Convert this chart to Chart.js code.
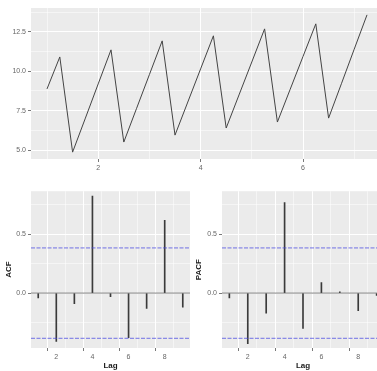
<!DOCTYPE html>
<html>
<head>
<meta charset="utf-8">
<script src="https://cdn.jsdelivr.net/npm/chart.js@4.4.1/dist/chart.umd.min.js"></script>
<style>
  html, body { margin: 0; padding: 0; background: #ffffff; }
  body { width: 377px; height: 371px; overflow: hidden; position: relative; }
  canvas { position: absolute; }
</style>
</head>
<body>
<canvas id="ts" width="390" height="185" style="left:0;top:0"></canvas>
<canvas id="acf" width="200" height="186" style="left:0;top:185px"></canvas>
<canvas id="pacf" width="200" height="186" style="left:190px;top:185px"></canvas>
<script>
// ---- data ----
const seriesValues = [8.88, 10.91, 4.87, 7.03, 9.20, 11.36, 5.51, 7.65, 9.79, 11.93,
                      5.95, 8.05, 10.15, 12.25, 6.40, 8.50, 10.59, 12.69, 6.78, 8.86,
                      10.94, 13.01, 7.03, 9.21, 11.40, 13.58];
const seriesStart = 1;
const seriesFrequency = 4;
const timeTickLabels = ['2', '4', '6'];
const valueTickLabels = ['5.0', '7.5', '10.0', '12.5'];

const lags = [1, 2, 3, 4, 5, 6, 7, 8, 9];
const acfValues = [-0.04, -0.41, -0.09, 0.825, -0.03, -0.38, -0.13, 0.62, -0.12];
const pacfValues = [-0.04, -0.43, -0.17, 0.77, -0.30, 0.09, 0.01, -0.15, -0.02];
const lagTickLabels = ['2', '4', '6', '8'];
const corrTickLabels = ['0.0', '0.5'];

// ---- styling ----
const FONT = "'Liberation Sans', Arial, sans-serif";
const PANEL = '#EBEBEB';
const TEXT = '#666666';
const TICKC = '#555555';

const panelBg = {
  id: 'panelBg',
  beforeDraw(chart) {
    const a = chart.chartArea, c = chart.ctx;
    c.save(); c.fillStyle = PANEL;
    c.fillRect(a.left, a.top, a.right - a.left, a.bottom - a.top);
    c.restore();
  }
};

function makeScale(cfg) {
  const isMajor = v => Object.prototype.hasOwnProperty.call(cfg.labels, String(+v.toFixed(4)));
  return {
    type: 'linear',
    position: cfg.pos,
    min: cfg.min, max: cfg.max,
    offset: false,
    border: { display: false },
    grid: {
      color: '#ffffff',
      lineWidth: ctx => (ctx.tick && isMajor(ctx.tick.value)) ? 1 : 0.5,
      drawTicks: true,
      tickLength: 3,
      tickColor: ctx => (ctx.tick && isMajor(ctx.tick.value)) ? TICKC : 'rgba(0,0,0,0)',
      tickWidth: 0.8
    },
    ticks: {
      color: TEXT,
      font: { family: FONT, size: 7 },
      padding: 2,
      maxRotation: 0,
      autoSkip: false,
      callback: v => { const k = String(+(+v).toFixed(4)); return cfg.labels[k] !== undefined ? cfg.labels[k] : ''; }
    },
    afterBuildTicks: s => { s.ticks = cfg.ticks.map(v => ({ value: v })); },
    afterFit: s => { if (cfg.pos === 'left') s.width = cfg.size; else s.height = cfg.size; },
    title: cfg.title ? {
      display: true, text: cfg.title, color: '#1a1a1a',
      font: { family: FONT, size: 8, weight: 'bold' }, padding: cfg.titlePad || { top: 1, bottom: 0 }
    } : { display: false }
  };
}

// ---- time series panel ----
const tsPoints = seriesValues.map((v, i) => ({ x: seriesStart + i / seriesFrequency, y: v }));
const tsLabelMap = {}; ['2', '4', '6'].forEach((k, i) => tsLabelMap[k] = timeTickLabels[i]);
const valLabelMap = {}; ['5', '7.5', '10', '12.5'].forEach((k, i) => valLabelMap[k] = valueTickLabels[i]);
const tMin = seriesStart, tMax = seriesStart + (seriesValues.length - 1) / seriesFrequency;
const vMin = Math.min(...seriesValues), vMax = Math.max(...seriesValues);
const tPad = (tMax - tMin) * 0.05, vPad = (vMax - vMin) * 0.05;

new Chart(document.getElementById('ts'), {
  type: 'line',
  data: { datasets: [{ data: tsPoints, borderColor: '#444444', borderWidth: 1, pointRadius: 0, tension: 0 }] },
  options: {
    responsive: false, animation: false, devicePixelRatio: 1,
    layout: { padding: { top: 8, right: 7, left: 0, bottom: 0 } },
    plugins: { legend: { display: false }, tooltip: { enabled: false } },
    scales: {
      x: makeScale({ pos: 'bottom', min: tMin - tPad, max: tMax + tPad, ticks: [1, 2, 3, 4, 5, 6, 7], labels: tsLabelMap, size: 26 }),
      y: makeScale({ pos: 'left', min: vMin - vPad, max: vMax + vPad, ticks: [5, 6.25, 7.5, 8.75, 10, 11.25, 12.5, 13.75], labels: valLabelMap, size: 31 })
    }
  },
  plugins: [panelBg]
});

// ---- correlogram panels ----
const ci = 1.96 / Math.sqrt(seriesValues.length);
const lagMin = lags[0], lagMax = lags[lags.length - 1];
const lagPad = (lagMax - lagMin) * 0.05;
const lagLabelMap = {}; ['2', '4', '6', '8'].forEach((k, i) => lagLabelMap[k] = lagTickLabels[i]);
const corrLabelMap = { '0': corrTickLabels[0], '0.5': corrTickLabels[1] };

function corrChart(id, values, title, yWidth, rightPad) {
  const x0 = lagMin - lagPad, x1 = lagMax + lagPad;
  const ciColor = 'rgba(70,70,225,0.75)';
  new Chart(document.getElementById(id), {
    type: 'bar',
    data: {
      datasets: [
        { type: 'line', data: [{ x: x0, y: ci }, { x: x1, y: ci }], borderColor: ciColor, borderWidth: 1, borderDash: [4, 1.5], pointRadius: 0 },
        { type: 'line', data: [{ x: x0, y: -ci }, { x: x1, y: -ci }], borderColor: ciColor, borderWidth: 1, borderDash: [4, 1.5], pointRadius: 0 },
        { type: 'line', data: [{ x: x0, y: 0 }, { x: x1, y: 0 }], borderColor: '#666666', borderWidth: 0.8, pointRadius: 0 },
        { type: 'bar', data: lags.map((l, i) => ({ x: l, y: values[i] })), backgroundColor: '#3a3a3a', barThickness: 1 }
      ]
    },
    options: {
      responsive: false, animation: false, devicePixelRatio: 1,
      layout: { padding: { top: 3, right: rightPad, left: 0, bottom: 0 } },
      plugins: { legend: { display: false }, tooltip: { enabled: false } },
      scales: {
        x: makeScale({ pos: 'bottom', min: x0, max: x1, ticks: [1, 2, 3, 4, 5, 6, 7, 8, 9], labels: lagLabelMap, size: 23, title: 'Lag', titlePad: { top: 0, bottom: 0 } }),
        y: makeScale({ pos: 'left', min: -0.467, max: 0.867, ticks: [-0.25, 0, 0.25, 0.5, 0.75], labels: corrLabelMap, size: yWidth, title: title, titlePad: { top: 4, bottom: 2 } })
      }
    },
    plugins: [panelBg]
  });
}
corrChart('acf', acfValues, 'ACF', 31, 10);
corrChart('pacf', pacfValues, 'PACF', 32, 6);
</script>
</body>
</html>
